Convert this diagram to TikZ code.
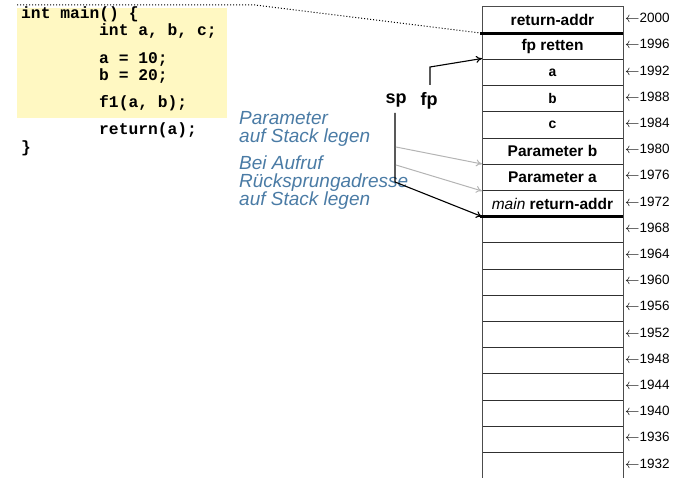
\documentclass[tikz,border=0pt]{standalone}
\usepackage{fontspec}
\setmainfont{Liberation Sans}
\setmonofont{Liberation Mono}
\usetikzlibrary{arrows.meta}
\definecolor{codebg}{HTML}{FFF8C2}
\definecolor{notecol}{HTML}{4A7BA5}
\definecolor{hintarrow}{HTML}{B4B4B4}
\definecolor{cellline}{HTML}{303030}
\tikzset{
  codeline/.style={anchor=base west, inner sep=0pt, font=\fontsize{16.3}{16}\selectfont\ttfamily\bfseries},
  cellsans/.style={inner sep=0pt, font=\fontsize{15.5}{16}\selectfont\bfseries},
  cellmono/.style={inner sep=0pt, font=\fontsize{14}{14}\selectfont\ttfamily\bfseries},
  addrlabel/.style={anchor=west, inner sep=0pt, font=\fontsize{13.5}{14}\selectfont},
  note/.style={anchor=north west, inner sep=0pt, align=left, text=notecol,
    font=\fontsize{19}{17.8}\selectfont\itshape},
  regname/.style={inner sep=0pt, font=\fontsize{18}{18}\selectfont\bfseries},
  pointer/.style={line width=1.1pt, -{To[length=6pt,width=7pt]}},
  hint/.style={draw=hintarrow, line width=1pt, -{To[length=6pt,width=7pt]}},
  thickbar/.style={line width=3pt, black},
}
\begin{document}
\begin{tikzpicture}[x=1pt,y=-1pt]
\useasboundingbox (0,0) rectangle (675,478);
\def\rowh{26.2}
\def\stacktop{7}

% code of main()
\fill[codebg] (17,8) rectangle (227,118);
\node[codeline] (c1) at (21,19)  {int main() \{};
\node[codeline] (c2) at (99,36)  {int a, b, c;};
\node[codeline] (c3) at (99,64)  {a = 10;};
\node[codeline] (c4) at (99,81)  {b = 20;};
\node[codeline] (c5) at (99,108) {f1(a, b);};
\node[codeline] (c6) at (99,135) {return(a);};
\node[codeline] (c7) at (21,153) {\}};

% dotted guide from the code to the frame boundary
\coordinate (dotA) at (17,5);
\coordinate (dotB) at (255,5);
\coordinate (dotC) at (482,33.2);
\draw[dotted, line width=1pt, black] (dotA) -- (dotB) -- (dotC);

% stack column
\foreach \i in {1,...,17}{
  \draw[cellline, line width=0.9pt] (482,\stacktop+\i*\rowh) -- (623,\stacktop+\i*\rowh);
}
\draw[black!70, line width=1pt] (482,478) -- (482,\stacktop) -- (623,\stacktop) -- (623,478);
\draw[thickbar] (480,\stacktop+\rowh) -- (623,\stacktop+\rowh);
\draw[thickbar] (480,\stacktop+8*\rowh) -- (623,\stacktop+8*\rowh);

% cell contents
\node[cellsans] (s0) at (552.5,\stacktop+0.5*\rowh) {return-addr};
\node[cellsans] (s1) at (552.5,\stacktop+1.5*\rowh) {fp retten};
\node[cellmono] (s2) at (552.5,\stacktop+2.5*\rowh) {a};
\node[cellmono] (s3) at (552.5,\stacktop+3.5*\rowh) {b};
\node[cellmono] (s4) at (552.5,\stacktop+4.5*\rowh) {c};
\node[cellsans] (s5) at (552.5,\stacktop+5.5*\rowh) {Parameter b};
\node[cellsans] (s6) at (552.5,\stacktop+6.5*\rowh) {Parameter a};
\node[cellsans] (s7) at (552.5,\stacktop+7.5*\rowh) {\textmd{\itshape main} return-addr};

% addresses
\foreach \i in {0,...,17}{
  \pgfmathtruncatemacro{\addr}{2000-4*\i}
  \node[addrlabel] (addr\i) at (625,\stacktop+\i*\rowh+11) {$\leftarrow$\addr};
}

% explanations
\node[note] (n1) at (239,111) {Parameter\\auf Stack legen};
\node[note] (n2) at (239,156) {Bei Aufruf\\Rücksprungadresse\\auf Stack legen};

% register names
\node[regname] (sp) at (396,101) {sp};
\node[regname] (fp) at (429,101) {fp};

% pointers
\coordinate (fpfoot) at (430,85);
\coordinate (fpbend) at (430,67);
\coordinate (fptip)  at (482,58.5);
\draw[pointer] (fpfoot) -- (fpbend) -- (fptip);

\coordinate (sphead) at (395,113);
\coordinate (spbend) at (395,182);
\coordinate (sptip)  at (482,216.6);
\draw[pointer] (sphead) -- (spbend) -- (sptip);

\coordinate (h1a) at (396,147);
\coordinate (h1b) at (482,164);
\coordinate (h2a) at (396,165);
\coordinate (h2b) at (482,191);
\draw[hint] (h1a) -- (h1b);
\draw[hint] (h2a) -- (h2b);
\end{tikzpicture}
\end{document}
